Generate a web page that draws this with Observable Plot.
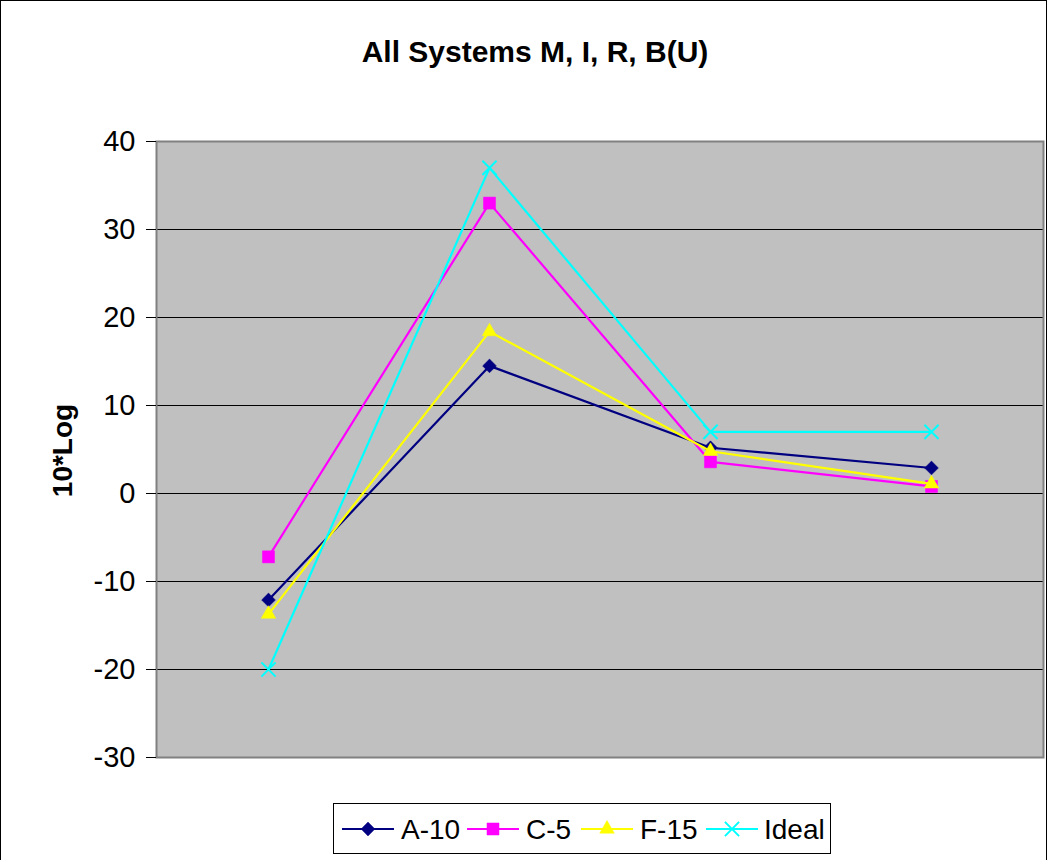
<!DOCTYPE html>
<html><head><meta charset="utf-8">
<script src="https://cdn.jsdelivr.net/npm/d3@7"></script>
<script src="https://cdn.jsdelivr.net/npm/@observablehq/plot@0.6"></script>
<style>
html,body{margin:0;padding:0;background:#fff;overflow:hidden;}
#wrap{position:relative;width:1048px;height:860px;}
#border{position:absolute;left:0;top:0;width:1047px;height:900px;border:1px solid #000;box-sizing:border-box;pointer-events:none;}
#wrap svg{position:absolute;left:0;top:0;}
</style></head><body><div id="wrap"><div id="border"></div></div>
<script>
const categories = ["M", "I", "R", "B(U)"];
const seriesNames = ["A-10", "C-5", "F-15", "Ideal"];
const a10 = [-12.1, 14.5, 5.2, 2.9];
const c5 = [-7.2, 33.0, 3.6, 0.8];
const f15 = [-13.7, 18.4, 4.8, 1.1];
const ideal = [-20, 37, 7, 7];
const yTicks = [-30, -20, -10, 0, 10, 20, 30, 40];
const titleText = "All Systems M, I, R, B(U)";
const yLabel = "10*Log";

const seriesValues = [a10, c5, f15, ideal];
const styles = [
  {color: "#000080", symbol: "diamond2", d3sym: d3.symbolDiamond2, r: 6.2, filled: true},
  {color: "#FF00FF", symbol: "square", d3sym: d3.symbolSquare, r: 6.8, filled: true},
  {color: "#FFFF00", symbol: "triangle", d3sym: d3.symbolTriangle, r: 5.4, filled: true},
  {color: "#00FFFF", symbol: "times", d3sym: d3.symbolTimes, r: 6.5, filled: false}
];
const font = '"Liberation Sans", Arial, Helvetica, sans-serif';

const rows = seriesNames.flatMap((s, i) =>
  categories.map((c, j) => ({series: s, category: c, value: seriesValues[i][j]})));

const marks = [
  Plot.frame({fill: "#C0C0C0", stroke: null}),
  Plot.ruleY(yTicks, {stroke: "#000", strokeWidth: 1}),
  Plot.frame({stroke: "#808080", strokeWidth: 2}),
  Plot.axisY({ticks: yTicks, tickSize: 10, tickPadding: 11, fontSize: 29, label: null,
    tickFormat: d => String(d), stroke: "#000", fill: "#000"})
];
seriesNames.forEach((s, i) => {
  const data = rows.filter(d => d.series === s);
  const st = styles[i];
  marks.push(Plot.line(data, {x: "category", y: "value", stroke: st.color, strokeWidth: 2.2}));
  marks.push(Plot.dot(data, {x: "category", y: "value", symbol: st.symbol, r: st.r,
    fill: st.filled ? st.color : "none", stroke: st.color, strokeWidth: st.filled ? 0.5 : 2}));
});

const svg = Plot.plot({
  width: 1048, height: 860,
  marginLeft: 156, marginRight: 5, marginTop: 141, marginBottom: 103,
  style: {fontFamily: font, background: "transparent", color: "#000"},
  x: {type: "point", domain: categories, padding: 0.5, axis: null},
  y: {domain: [-30, 40]},
  marks
});
document.getElementById("wrap").insertBefore(svg, document.getElementById("border"));

const s = d3.select(svg);
s.append("text").attr("x", 535).attr("y", 62).attr("text-anchor", "middle")
  .attr("font-family", font).attr("font-size", 30).attr("font-weight", "bold").attr("fill", "#000")
  .text(titleText);
s.append("text").attr("transform", "translate(72,450.5) rotate(-90)").attr("text-anchor", "middle")
  .attr("font-family", font).attr("font-size", 28).attr("font-weight", "bold").attr("fill", "#000")
  .text(yLabel);

// legend
const lg = s.append("g").attr("text-anchor", "start");
lg.append("rect").attr("x", 333.5).attr("y", 803.5).attr("width", 497).attr("height", 50)
  .attr("fill", "#fff").attr("stroke", "#000").attr("stroke-width", 1);
const legendX = [342, 467, 581, 706];
const textX = [401, 526, 640, 764];
seriesNames.forEach((name, i) => {
  const st = styles[i];
  const x0 = legendX[i];
  const ly = 829;
  lg.append("line").attr("x1", x0).attr("x2", x0 + 52).attr("y1", ly).attr("y2", ly)
    .attr("stroke", st.color).attr("stroke-width", 2);
  lg.append("path").attr("transform", `translate(${x0 + 26},${ly})`)
    .attr("d", d3.symbol(st.d3sym, Math.PI * st.r * st.r)())
    .attr("fill", st.filled ? st.color : "none").attr("stroke", st.color)
    .attr("stroke-width", st.filled ? 0.5 : 2);
  lg.append("text").attr("x", textX[i]).attr("y", 839).attr("text-anchor", "start")
    .attr("font-family", font).attr("font-size", 28).attr("fill", "#000").text(name);
});
</script></body></html>
